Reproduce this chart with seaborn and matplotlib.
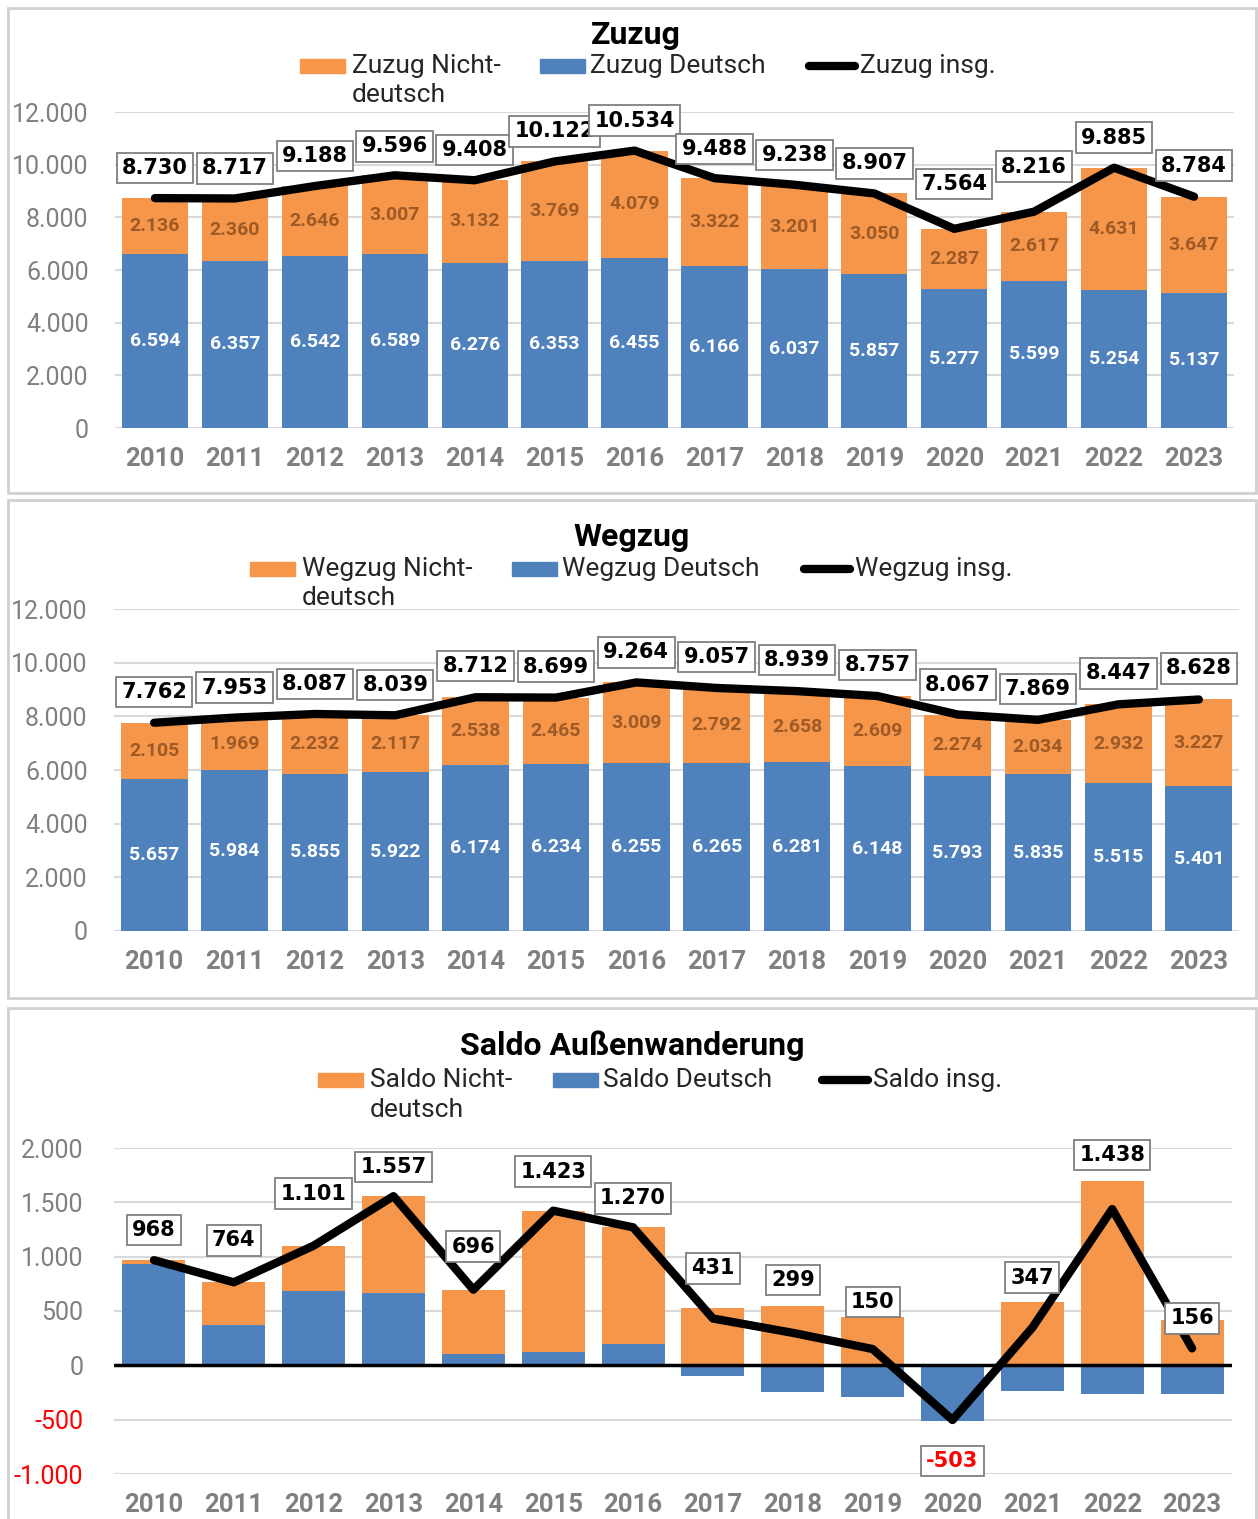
import numpy as np
import matplotlib
matplotlib.use("Agg")
import matplotlib.pyplot as plt
from matplotlib.patches import Rectangle
from matplotlib.lines import Line2D
import seaborn as sns

# ---------------- data ----------------
years = ["2010", "2011", "2012", "2013", "2014", "2015", "2016",
         "2017", "2018", "2019", "2020", "2021", "2022", "2023"]

zuzug_nichtdeutsch = [2136, 2360, 2646, 3007, 3132, 3769, 4079, 3322, 3201, 3050, 2287, 2617, 4631, 3647]
zuzug_deutsch = [6594, 6357, 6542, 6589, 6276, 6353, 6455, 6166, 6037, 5857, 5277, 5599, 5254, 5137]
zuzug_insg = [8730, 8717, 9188, 9596, 9408, 10122, 10534, 9488, 9238, 8907, 7564, 8216, 9885, 8784]

wegzug_nichtdeutsch = [2105, 1969, 2232, 2117, 2538, 2465, 3009, 2792, 2658, 2609, 2274, 2034, 2932, 3227]
wegzug_deutsch = [5657, 5984, 5855, 5922, 6174, 6234, 6255, 6265, 6281, 6148, 5793, 5835, 5515, 5401]
wegzug_insg = [7762, 7953, 8087, 8039, 8712, 8699, 9264, 9057, 8939, 8757, 8067, 7869, 8447, 8628]

saldo_nichtdeutsch = [31, 391, 414, 890, 594, 1304, 1070, 530, 543, 441, 13, 583, 1699, 420]
saldo_deutsch = [937, 373, 687, 667, 102, 119, 200, -99, -244, -291, -516, -236, -261, -264]
saldo_insg = [968, 764, 1101, 1557, 696, 1423, 1270, 431, 299, 150, -503, 347, 1438, 156]

titles = ["Zuzug", "Wegzug", "Saldo Außenwanderung"]
legend_labels = [
    ["Zuzug Nicht-\ndeutsch", "Zuzug Deutsch", "Zuzug insg."],
    ["Wegzug Nicht-\ndeutsch", "Wegzug Deutsch", "Wegzug insg."],
    ["Saldo Nicht-\ndeutsch", "Saldo Deutsch", "Saldo insg."],
]
yticks_12 = [0, 2000, 4000, 6000, 8000, 10000, 12000]
yticks_saldo = [-1000, -500, 0, 500, 1000, 1500, 2000]

# ---------------- style ----------------
W, H = 1258, 1519
ORANGE = "#F5964A"
BLUE = "#4F81BD"
ORANGE_TXT = "#9E5A26"
GRID = "#D9D9D9"
TICK = "#808080"

sns.set_style("white")
plt.rcParams["font.family"] = ["Roboto", "DejaVu Sans"]

fig = plt.figure(figsize=(W / 100, H / 100), dpi=100)


def fmt(v):
    return f"{v:,}".replace(",", ".")


def rect(left, right, top, bottom):
    return [left / W, 1 - bottom / H, (right - left) / W, (bottom - top) / H]


def fx(x):
    return x / W


def fy(y):
    return 1 - y / H


# panel frames
for (t, b) in [(8, 493), (500, 998), (1008, 1530)]:
    fig.patches.append(Rectangle((fx(8), fy(b)), fx(1256) - fx(8), fy(t) - fy(b),
                                 transform=fig.transFigure, fill=False,
                                 edgecolor="#D0D0D0", lw=2, zorder=0))


def legend(labels, title, title_xy, patch1_x, patch2_x, line_x, row_y, row2_y):
    fig.text(fx(title_xy[0]), fy(title_xy[1]), title, ha="center", va="center",
             fontsize=23, fontweight="bold", color="black")
    # orange
    fig.patches.append(Rectangle((fx(patch1_x), fy(row_y + 7)), 45 / W, 14 / H,
                                 transform=fig.transFigure, color=ORANGE))
    first, second = labels[0].split("\n")
    fig.text(fx(patch1_x + 52), fy(row_y), first, ha="left", va="center", fontsize=19, color="#262626")
    fig.text(fx(patch1_x + 52), fy(row2_y), second, ha="left", va="center", fontsize=19, color="#262626")
    # blue
    fig.patches.append(Rectangle((fx(patch2_x), fy(row_y + 7)), 45 / W, 14 / H,
                                 transform=fig.transFigure, color=BLUE))
    fig.text(fx(patch2_x + 50), fy(row_y), labels[1], ha="left", va="center", fontsize=19, color="#262626")
    # line
    fig.add_artist(Line2D([fx(line_x + 4), fx(line_x + 50)], [fy(row_y), fy(row_y)],
                          transform=fig.transFigure, color="black", lw=6,
                          solid_capstyle="round"))
    fig.text(fx(line_x + 55), fy(row_y), labels[2], ha="left", va="center", fontsize=19, color="#262626")


def panel(ax_r, orange_h, blue_h, total, orange_lbl, blue_lbl, yticks, ylim,
          width, offsets, saldo=False, inner=True, ypad=19):
    ax = fig.add_axes(ax_r)
    sns.barplot(x=years, y=orange_h, color=ORANGE, saturation=1, width=width,
                linewidth=0, ax=ax, zorder=2)
    sns.barplot(x=years, y=blue_h, color=BLUE, saturation=1, width=width,
                linewidth=0, ax=ax, zorder=2)
    idx = np.arange(len(years))
    sns.lineplot(x=idx, y=total, color="black", lw=6, sort=False, ax=ax, zorder=4,
                 solid_capstyle="round")
    ax.set_xlim(-0.5, len(years) - 0.5)
    ax.set_ylim(*ylim)
    ax.set_yticks(yticks)
    ax.set_yticklabels([fmt(v) for v in yticks])
    ax.set_xticks(idx)
    ax.set_xticklabels(years)
    ax.set_xlabel("")
    ax.set_ylabel("")
    for s in ax.spines.values():
        s.set_visible(False)
    ax.yaxis.grid(True, color=GRID, lw=1.5, zorder=0)
    ax.xaxis.grid(False)
    ax.set_axisbelow(True)
    ax.tick_params(axis="y", length=0, pad=ypad, labelsize=18, labelcolor=TICK)
    ax.tick_params(axis="x", length=0, pad=14, labelsize=18.5, labelcolor=TICK)
    for lab in ax.get_xticklabels():
        lab.set_fontweight("bold")
    for lab, v in zip(ax.get_yticklabels(), yticks):
        if v < 0:
            lab.set_color("#FF0000")
    if saldo:
        ax.axhline(0, color="black", lw=2.5, zorder=3)
    if inner:
        for i in idx:
            ax.text(i, blue_lbl[i] / 2, fmt(blue_lbl[i]), ha="center", va="center",
                    color="white", fontsize=14, fontweight="bold", zorder=5)
            ax.text(i, blue_lbl[i] + orange_lbl[i] / 2, fmt(orange_lbl[i]), ha="center",
                    va="center", color=ORANGE_TXT, fontsize=14, fontweight="bold", zorder=5)
    for i in idx:
        v = total[i]
        ax.annotate(fmt(v), xy=(i, v), xytext=(0, offsets[i] * 0.72), textcoords="offset points",
                    ha="center", va="center", fontsize=15, fontweight="bold",
                    family=["DejaVu Sans"], color="#FF0000" if v < 0 else "black",
                    bbox=dict(boxstyle="square,pad=0.25", fc="white", ec="#7F7F7F", lw=1.3),
                    zorder=6, annotation_clip=False)
    return ax


# ---- Panel 1: Zuzug
legend(legend_labels[0], titles[0], (636, 35), 300, 540, 805, 66, 95)
z_top = [a + b for a, b in zip(zuzug_deutsch, zuzug_nichtdeutsch)]
panel(rect(115, 1234, 112, 428), z_top, zuzug_deutsch, zuzug_insg,
      zuzug_nichtdeutsch, zuzug_deutsch, yticks_12, (0, 12000), 0.83,
      [30, 30, 30, 29, 30, 30, 30, 29, 30, 30, 45, 45, 30, 31])

# ---- Panel 2: Wegzug
legend(legend_labels[1], titles[1], (632, 537), 250, 512, 800, 569, 598)
w_top = [a + b for a, b in zip(wegzug_deutsch, wegzug_nichtdeutsch)]
panel(rect(114, 1239, 609, 931), w_top, wegzug_deutsch, wegzug_insg,
      wegzug_nichtdeutsch, wegzug_deutsch, yticks_12, (0, 12000), 0.83,
      [31, 30, 30, 30, 31, 31, 30, 31, 31, 31, 30, 31, 31, 31])

# ---- Panel 3: Saldo
legend(legend_labels[2], titles[2], (632, 1046), 318, 553, 818, 1080, 1110)
s_top = [max(d, 0) + n for d, n in zip(saldo_deutsch, saldo_nichtdeutsch)]
panel(rect(114, 1232, 1148, 1474), s_top, saldo_deutsch, saldo_insg,
      saldo_nichtdeutsch, saldo_deutsch, yticks_saldo, (-1000, 2000), 0.79,
      [30, 42, 52, 29, 43, 39, 29, 50, 53, 47, -41, 50, 54, 30],
      saldo=True, inner=False, ypad=22)

fig.savefig("out.png", dpi=100, facecolor="white")
